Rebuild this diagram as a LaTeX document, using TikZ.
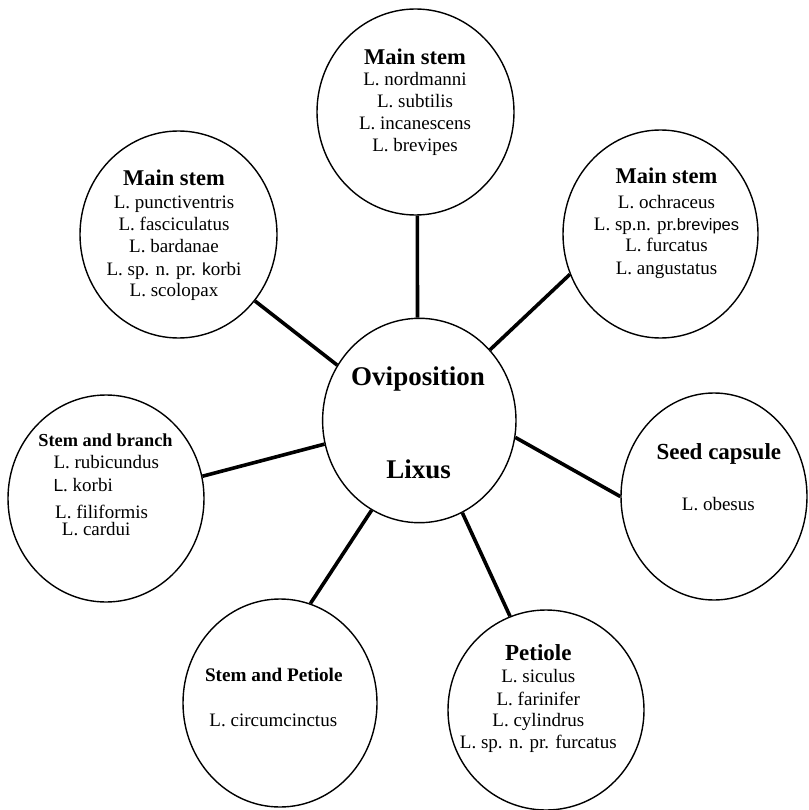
\documentclass[tikz,border=0pt]{standalone}
\usepackage{fontspec}
\setmainfont{Liberation Serif}
\newfontfamily\sansf{Liberation Sans}
\usetikzlibrary{shapes.geometric}
\tikzset{
  bubble/.style={ellipse, draw, line width=1.4pt, inner sep=0pt, fill=white},
  link/.style={line width=3.6pt},
  body/.style={anchor=base, inner sep=0pt, font=\fontsize{19}{22}\selectfont},
  bodyw/.style={anchor=base west, inner sep=0pt, font=\fontsize{19}{22}\selectfont},
  head/.style={anchor=base, inner sep=0pt, font=\bfseries\fontsize{22.5}{26}\selectfont},
}
\begin{document}
\begin{tikzpicture}[x=1pt,y=-1pt]
\useasboundingbox (0,0) rectangle (808,810);
% circles
\node[bubble, minimum width=193.4pt, minimum height=204.4pt] (c) at (419.3,420.5) {};
\node[bubble, minimum width=197pt, minimum height=206pt] (t) at (415.5,112) {};
\node[bubble, minimum width=197pt, minimum height=207pt] (ul) at (178.5,234.5) {};
\node[bubble, minimum width=195pt, minimum height=208pt] (ur) at (660.5,234) {};
\node[bubble, minimum width=196pt, minimum height=207pt] (l) at (106,498.5) {};
\node[bubble, minimum width=186pt, minimum height=207pt] (s) at (714,496.5) {};
\node[bubble, minimum width=194pt, minimum height=208pt] (bl) at (280,703) {};
\node[bubble, minimum width=196pt, minimum height=200pt] (br) at (546,710) {};
% connectors
\draw[link] (c.91) -- (t.271);
\draw[link] (c.146) -- (ul.319);
\draw[link] (c.45) -- (ur.204);
\draw[link] (c.194) -- (l.13);
\draw[link] (c.350) -- (s.180);
\draw[link] (c.242) -- (bl.73);
\draw[link] (c.295) -- (br.111);
% centre text
\node[anchor=base, inner sep=0pt, font=\bfseries\fontsize{27}{30}\selectfont] (c1) at (418,385) {Oviposition};
\node[anchor=base, inner sep=0pt, font=\bfseries\fontsize{27}{30}\selectfont] (c2) at (418.7,478) {Lixus};
% top
\node[head] (t0) at (415,65) {Main stem};
\node[body] (t1) at (415,86) {L. nordmanni};
\node[body] (t2) at (415,108) {L. subtilis};
\node[body] (t3) at (415,130) {L. incanescens};
\node[body] (t4) at (415,152) {L. brevipes};
% upper left
\node[head] (ul0) at (174,186) {Main stem};
\node[body] (ul1) at (174,209) {L. punctiventris};
\node[body] (ul2) at (174,230.7) {L. fasciculatus};
\node[body] (ul3) at (174,252.7) {L. bardanae};
\node[body] (ul4) at (174,275) {L. sp. n. pr. {\sansf\fontsize{17.5}{22}\selectfont k}orbi};
\node[body] (ul5) at (174,296.7) {L. scolopax};
% upper right
\node[head] (ur0) at (666.5,184) {Main stem};
\node[body] (ur1) at (666.5,208) {L. ochraceus};
\node[body] (ur2) at (666.5,230) {L. sp.n. pr.{\sansf\fontsize{16.5}{22}\selectfont brevipes}};
\node[body] (ur3) at (666.5,251.7) {L. furcatus};
\node[body] (ur4) at (666.5,274) {L. angustatus};
% left
\node[head, font=\bfseries\fontsize{18.3}{22}\selectfont] (l0) at (105.5,446.7) {Stem and branch};
\node[bodyw] (l1) at (53.3,468) {L. rubicundus};
\node[bodyw] (l2) at (53.3,491.7) {{\sansf\fontsize{17.5}{22}\selectfont L}. korbi};
\node[bodyw] (l3) at (55,518) {L. filiformis};
\node[bodyw] (l4) at (61.7,535.7) {L. cardui};
% seed capsule
\node[head, font=\bfseries\fontsize{23}{26}\selectfont] (s0) at (718.8,459.3) {Seed capsule};
\node[body] (s1) at (718.3,510) {L. obesus};
% stem and petiole
\node[head, font=\bfseries\fontsize{19.2}{22}\selectfont] (bl0) at (273.8,681.7) {Stem and Petiole};
\node[body] (bl1) at (273.3,726.7) {L. circumcinctus};
% petiole
\node[head, font=\bfseries\fontsize{23}{26}\selectfont] (br0) at (538.3,660.5) {Petiole};
\node[body] (br1) at (538.3,682.7) {L. siculus};
\node[body] (br2) at (538.3,705) {L. farinifer};
\node[body] (br3) at (538.3,726.7) {L. cylindrus};
\node[body] (br4) at (538.3,748.3) {L. sp. n. pr. furcatus};
\end{tikzpicture}
\end{document}
